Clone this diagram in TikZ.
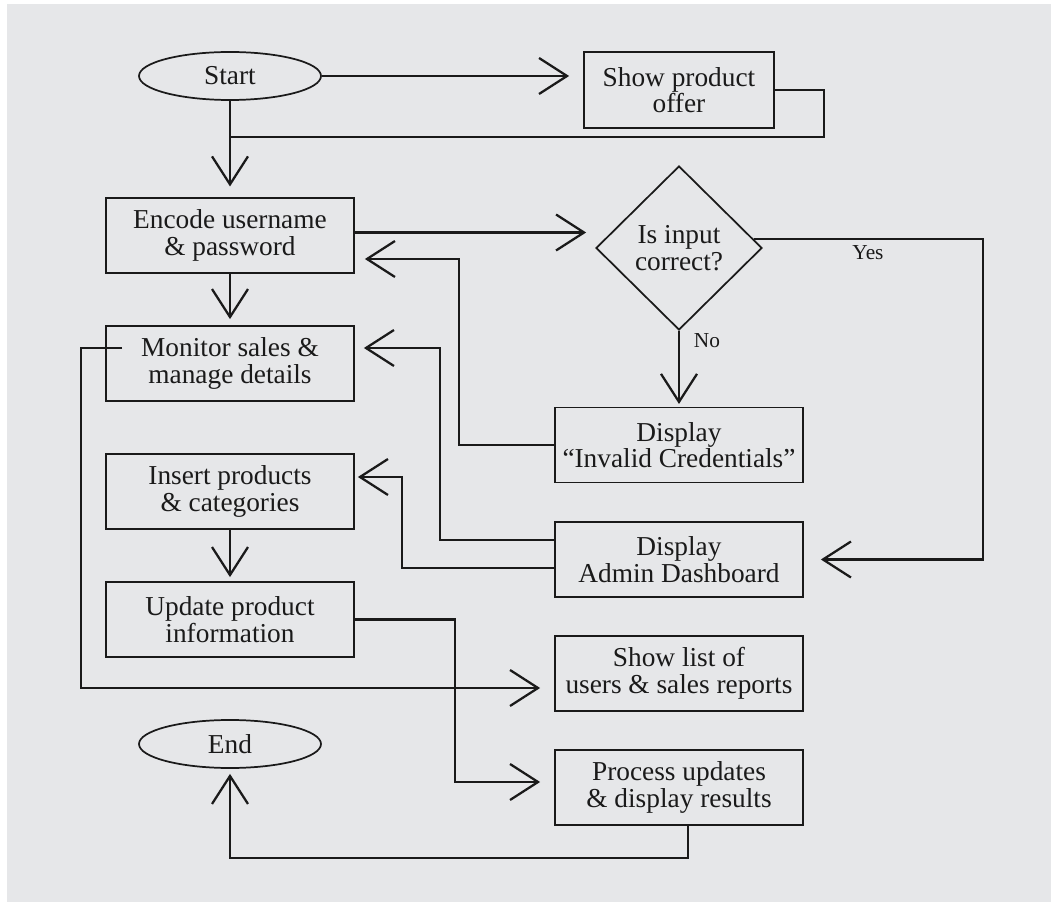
\documentclass[tikz,border=0pt]{standalone}
\usepackage{fontspec}
\setmainfont{Liberation Serif}
\usetikzlibrary{arrows.meta,shapes.geometric,calc}
\definecolor{bg}{HTML}{E6E7E9}
\definecolor{ink}{HTML}{1A1A1A}
\begin{document}
\begin{tikzpicture}[x=0.75pt,y=-0.75pt,
  txt/.style={font=\fontsize{20.5}{20}\selectfont, text=ink},
  box/.style={txt, draw=ink, line width=1.3pt, minimum width=186pt, minimum height=56.25pt, inner sep=0pt, align=center},
  term/.style={txt, ellipse, draw=ink, line width=1.3pt, minimum width=136.5pt, minimum height=36pt, inner sep=0pt},
  decision/.style={txt, diamond, draw=ink, line width=1.3pt, minimum width=124.5pt, minimum height=123pt, inner sep=0pt, align=center},
  conn/.style={draw=ink, line width=1.7pt},
  arr/.style={conn, -{Straight Barb[length=21pt,width=27pt]}},
  lbl/.style={font=\fontsize{16}{16}\selectfont, text=ink}
]
\useasboundingbox (0,0) rectangle (1051,902);
\fill[white] (0,0) rectangle (1051,902);
\fill[bg] (7,4) rectangle (1051,902);

% nodes
\node[term] (start) at (230,76) {Start};
\node[box, minimum width=142.5pt, minimum height=57pt] (offer) at (679,90) {Show product\\offer};
\node[box] (enc) at (230,235.5) {Encode username\\\& password};
\node[box] (mon) at (230,363.5) {Monitor sales \&\\manage details};
\node[box] (ins) at (230,491.5) {Insert products\\\& categories};
\node[box] (upd) at (230,619.5) {Update product\\information};
\node[term] (end) at (230,744) {End};
\node[decision] (dia) at (679,248) {Is input\\correct?};
\node[box] (inv) at (679,445) {Display\\``Invalid Credentials''};
\node[box] (adm) at (679,559.5) {Display\\Admin Dashboard};
\node[box] (lst) at (679,673.5) {Show list of\\users \& sales reports};
\node[box] (proc) at (679,787.5) {Process updates\\\& display results};

% connectors
\coordinate (j) at (230,137);
\draw[arr, shorten >=10.5pt] (start.east) -- (start.east -| offer.west);
\draw[arr, shorten >=8pt] (start.south) -- (enc.north);
\draw[conn] (offer.east) -- ++(49,0) |- (j);
\draw[arr, shorten >=6.75pt] ($(enc.east)+(0,-3)$) -- ($(enc.east -| dia.west)+(0,-3)$);
\draw[arr, shorten >=12.75pt] ($(dia.east)+(-9,-9)$) -- ++(229,0) |- (adm.east);
\node[lbl] (yes) at (868,253) {Yes};
\draw[arr, shorten >=2pt] (dia.south) -- (inv.north);
\node[lbl] (no) at (707,341) {No};
\draw[arr, shorten >=7.5pt] (inv.west) -- ++(-95,0) |- ($(enc.east)+(0,23.5)$);
\draw[arr, shorten >=6.75pt] ($(adm.west)+(0,-19.5)$) -- ++(-114,0) |- ($(mon.east)+(0,-15.5)$);
\draw[arr, shorten >=2.25pt] ($(adm.west)+(0,8.5)$) -- ++(-152,0) |- ($(ins.east)+(0,-14.5)$);
\draw[arr, shorten >=4.5pt] (enc.south) -- (mon.north);
\draw[arr, shorten >=3pt] (ins.south) -- (upd.north);
\draw[arr, shorten >=10.5pt] ($(mon.west)+(17,-15.5)$) -- ++(-41,0) |- ($(lst.west)+(0,14.5)$);
\draw[arr, shorten >=10.5pt] (upd.east) -- ++(100,0) |- ($(proc.west)+(0,-5.5)$);
\draw[arr, shorten >=3.75pt] ($(proc.south)+(9,0)$) -- ++(0,32) -| (end.south);
\end{tikzpicture}
\end{document}
